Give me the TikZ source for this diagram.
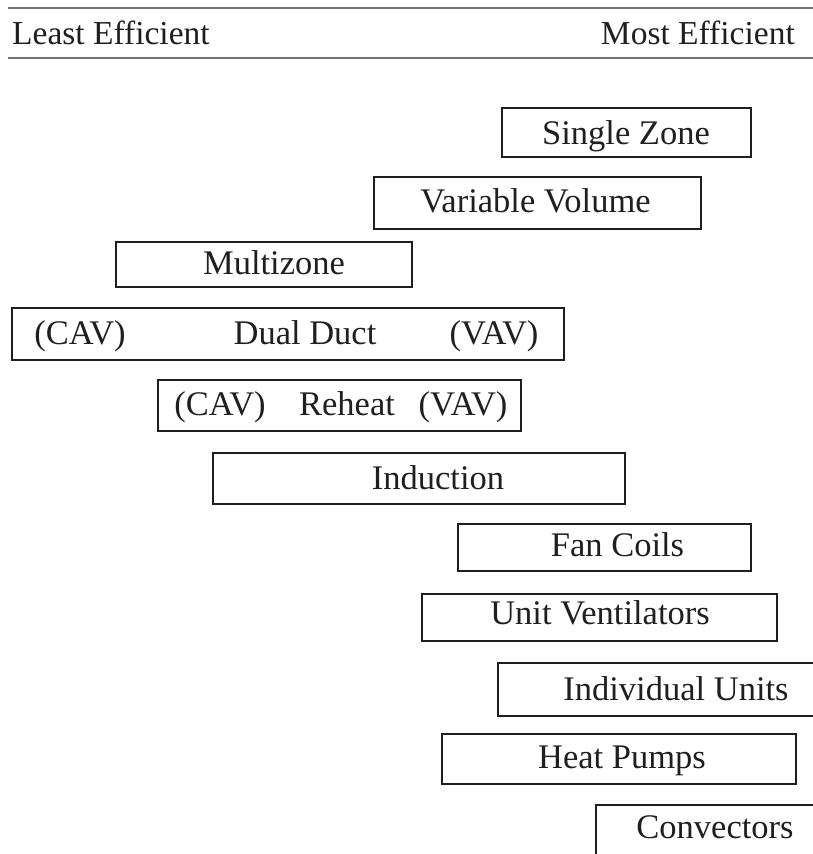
\documentclass[tikz,border=0pt]{standalone}
\usepackage{fontspec}
\setmainfont{Liberation Serif}
\begin{document}
\begin{tikzpicture}[x=1pt,y=-1pt,
  boxstyle/.style={draw=black!88, line width=2pt},
  lbl/.style={font=\fontsize{34.5}{38}\selectfont, text=black!88, inner sep=0pt, anchor=base},
  hdr/.style={font=\fontsize{33.5}{38}\selectfont, text=black!88, inner sep=0pt},
  rule/.style={draw=black!55, line width=1.5pt}]
\useasboundingbox (0,0) rectangle (813,854);
\clip (0,0) rectangle (813,854);
% header
\coordinate (tl) at (8,8); \coordinate (tr) at (820,8);
\coordinate (bl) at (8,58); \coordinate (br) at (820,58);
\draw[rule] (tl) -- (tr);
\draw[rule] (bl) -- (br);
\node[hdr, anchor=base west] (least) at (12,44) {Least Efficient};
\node[hdr, anchor=base east] (most) at (795,44) {Most Efficient};
% boxes
\draw[boxstyle] (502,108) rectangle (751,157);
\node[lbl] (sz) at (626,144) {Single Zone};
\draw[boxstyle] (374,177) rectangle (701,229);
\node[lbl] (vv) at (535.5,212) {Variable Volume};
\draw[boxstyle] (116,242) rectangle (412,287);
\node[lbl] (mz) at (274,274) {Multizone};
\draw[boxstyle] (12,308) rectangle (564,360);
\node[lbl] (ddc) at (80,344) {(CAV)};
\node[lbl] (dd) at (305,344) {Dual Duct};
\node[lbl] (ddv) at (494,344) {(VAV)};
\draw[boxstyle] (158,380) rectangle (521,431);
\node[lbl] (rhc) at (220,415) {(CAV)};
\node[lbl] (rh) at (347,415) {Reheat};
\node[lbl] (rhv) at (463,415) {(VAV)};
\draw[boxstyle] (213,453) rectangle (625,504);
\node[lbl] (in) at (438,489) {Induction};
\draw[boxstyle] (458,524) rectangle (751,571);
\node[lbl] (fc) at (617.5,556) {Fan Coils};
\draw[boxstyle] (422,594) rectangle (777,641);
\node[lbl] (uv) at (600,624.5) {Unit Ventilators};
\draw[boxstyle] (498,663) rectangle (830,716);
\node[lbl] (iu) at (676,700) {Individual Units};
\draw[boxstyle] (442,734) rectangle (796,784);
\node[lbl] (hp) at (622,768.5) {Heat Pumps};
\draw[boxstyle] (596,805) rectangle (830,870);
\node[lbl] (cv) at (715,838) {Convectors};
\end{tikzpicture}
\end{document}
